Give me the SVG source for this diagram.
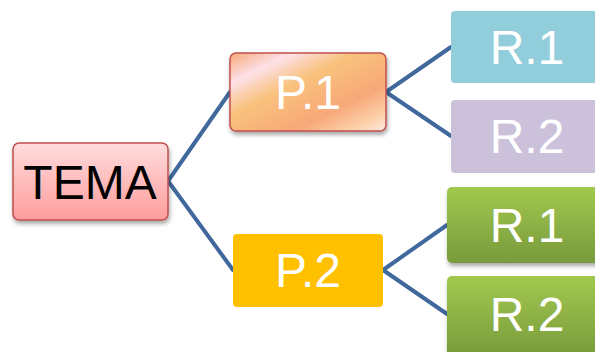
<svg xmlns="http://www.w3.org/2000/svg" width="595" height="352" viewBox="0 0 595 352">
<style>
.t{font-family:"Liberation Sans",Arial,sans-serif;font-size:48px;text-anchor:middle;dominant-baseline:central}
.w{fill:#ffffff}
.k{fill:#000000}
.c{fill:none;stroke:#41689c;stroke-width:4;stroke-linecap:round;stroke-linejoin:round}
</style>
<defs>
<linearGradient id="gPink" x1="0" y1="0" x2="0" y2="1">
<stop offset="0" stop-color="#ffdcdc"/>
<stop offset="1" stop-color="#ff9c9c"/>
</linearGradient>
<linearGradient id="gOrange" x1="0" y1="0" x2="1" y2="1">
<stop offset="0" stop-color="#f8a878"/>
<stop offset="0.2" stop-color="#fde0e8"/>
<stop offset="0.4" stop-color="#f9c27c"/>
<stop offset="0.7" stop-color="#f8a878"/>
<stop offset="0.9" stop-color="#fcd4b0"/>
<stop offset="1" stop-color="#fde8e8"/>
</linearGradient>
<linearGradient id="gGreen" x1="0" y1="0" x2="0" y2="1">
<stop offset="0" stop-color="#a2c84e"/>
<stop offset="1" stop-color="#789a3c"/>
</linearGradient>
<filter id="sh" x="-10%" y="-10%" width="130%" height="140%">
<feDropShadow dx="1" dy="3" stdDeviation="2" flood-color="#000" flood-opacity="0.35"/>
</filter>
</defs>
<g id="connectors">
<path class="c" d="M168,181 L230,92 M168,181 L233,270"/>
<path class="c" d="M386,92 L451,47 M386,92 L451,136"/>
<path class="c" d="M383,270 L447,225 M383,270 L447,314"/>
</g>
<g id="tema">
<rect x="13" y="143" width="155" height="77" rx="6" fill="url(#gPink)" stroke="#c0504d" stroke-width="1.5" filter="url(#sh)"/>
<text class="t k" x="90" y="182">TEMA</text>
</g>
<g id="p1">
<rect x="230" y="53" width="156" height="78" rx="6" fill="url(#gOrange)" stroke="#c0504d" stroke-width="1.5" filter="url(#sh)"/>
<text class="t w" x="308" y="92">P.1</text>
</g>
<g id="p2">
<rect x="233" y="234" width="150" height="73" rx="4" fill="#ffc000"/>
<text class="t w" x="308" y="270">P.2</text>
</g>
<g id="r1a">
<rect x="451" y="11" width="160" height="72" rx="4" fill="#92cddc"/>
<text class="t w" x="527" y="47">R.1</text>
</g>
<g id="r2a">
<rect x="451" y="100" width="160" height="73" rx="4" fill="#ccc1da"/>
<text class="t w" x="527" y="136">R.2</text>
</g>
<g id="r1b">
<rect x="447" y="187" width="164" height="76" rx="5" fill="url(#gGreen)" filter="url(#sh)"/>
<text class="t w" x="527" y="225">R.1</text>
</g>
<g id="r2b">
<rect x="447" y="276" width="164" height="82" rx="5" fill="url(#gGreen)" filter="url(#sh)"/>
<text class="t w" x="527" y="314">R.2</text>
</g>
</svg>
